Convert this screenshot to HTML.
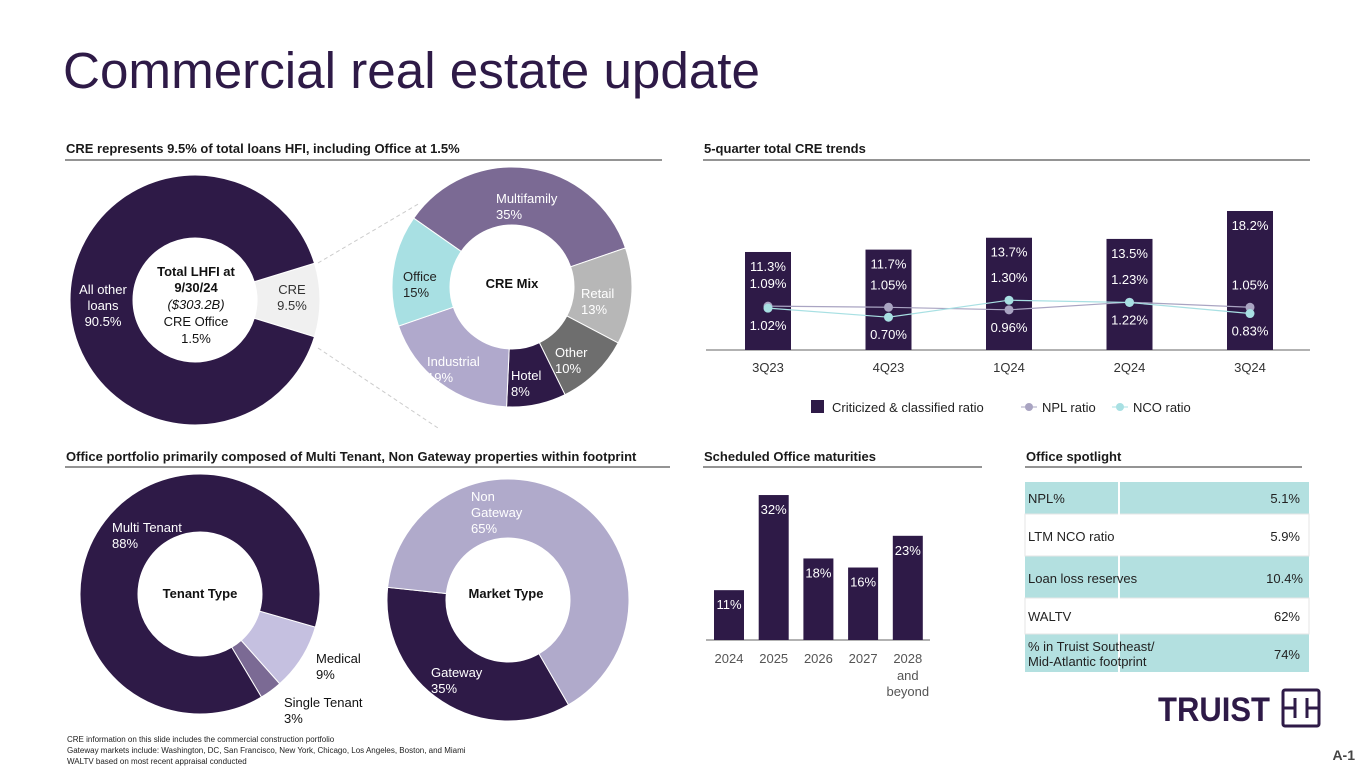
<!DOCTYPE html>
<html><head><meta charset="utf-8"><style>
body{margin:0;background:#fff;}
svg{display:block;font-family:"Liberation Sans",Arial,sans-serif;}
</style></head><body>
<svg id="s" width="1365" height="768" viewBox="0 0 1365 768">
<text x="63" y="88" font-size="51" fill="#2e1a47" textLength="697" lengthAdjust="spacingAndGlyphs">Commercial real estate update</text>
<text x="66" y="153" font-size="13" font-weight="bold" fill="#1a1a1a">CRE represents 9.5% of total loans HFI, including Office at 1.5%</text>
<line x1="65" y1="160" x2="662" y2="160" stroke="#555" stroke-width="1.2"/>
<text x="704" y="153" font-size="13" font-weight="bold" fill="#1a1a1a">5-quarter total CRE trends</text>
<line x1="703" y1="160" x2="1310" y2="160" stroke="#555" stroke-width="1.2"/>
<text x="66" y="461" font-size="13" font-weight="bold" fill="#1a1a1a">Office portfolio primarily composed of Multi Tenant, Non Gateway properties within footprint</text>
<line x1="65" y1="467" x2="670" y2="467" stroke="#555" stroke-width="1.2"/>
<text x="704" y="461" font-size="13" font-weight="bold" fill="#1a1a1a">Scheduled Office maturities</text>
<line x1="703" y1="467" x2="982" y2="467" stroke="#555" stroke-width="1.2"/>
<text x="1026" y="461" font-size="13" font-weight="bold" fill="#1a1a1a">Office spotlight</text>
<line x1="1025" y1="467" x2="1302" y2="467" stroke="#555" stroke-width="1.2"/>

<line x1="318" y1="263" x2="420" y2="203" stroke="#ccc" stroke-dasharray="4,3"/>
<line x1="318" y1="348" x2="438" y2="428" stroke="#ccc" stroke-dasharray="4,3"/>

<g id="donuts"></g>
<g id="trend"></g>
<g id="mat"></g>

<g font-size="13" text-anchor="middle" fill="#111">
<text x="196" y="276" font-weight="bold">Total LHFI at</text>
<text x="196" y="292" font-weight="bold">9/30/24</text>
<text x="196" y="309" font-style="italic">($303.2B)</text>
<text x="196" y="326">CRE Office</text>
<text x="196" y="343">1.5%</text>
<text x="512" y="288" font-weight="bold">CRE Mix</text>
<text x="200" y="598" font-weight="bold">Tenant Type</text>
<text x="506" y="598" font-weight="bold">Market Type</text>
</g>

<g font-size="13" fill="#222">
<rect x="1025" y="482" width="284" height="32" fill="#b3e0e0"/>
<rect x="1025" y="556" width="284" height="42" fill="#b3e0e0"/>
<rect x="1025" y="634" width="284" height="38" fill="#b3e0e0"/>
<rect x="1025" y="514" width="284" height="42" fill="none" stroke="#e6e6e6"/>
<rect x="1025" y="598" width="284" height="36" fill="none" stroke="#e6e6e6"/>
<line x1="1119" y1="482" x2="1119" y2="672" stroke="#fff" stroke-width="2"/>
<text x="1028" y="503">NPL%</text><text x="1300" y="503" text-anchor="end">5.1%</text>
<text x="1028" y="541">LTM NCO ratio</text><text x="1300" y="541" text-anchor="end">5.9%</text>
<text x="1028" y="583">Loan loss reserves</text><text x="1303" y="583" text-anchor="end">10.4%</text>
<text x="1028" y="621">WALTV</text><text x="1300" y="621" text-anchor="end">62%</text>
<text x="1028" y="651">% in Truist Southeast/</text><text x="1028" y="666">Mid-Atlantic footprint</text><text x="1300" y="659" text-anchor="end">74%</text>
</g>

<g>
<text x="1158" y="721" font-size="34" font-weight="bold" fill="#2e1a47" textLength="112" lengthAdjust="spacingAndGlyphs">TRUIST</text>
<rect x="1283" y="690" width="36" height="36" rx="2" fill="none" stroke="#2e1a47" stroke-width="3"/>
<line x1="1295" y1="698" x2="1295" y2="718" stroke="#2e1a47" stroke-width="3"/>
<line x1="1307" y1="698" x2="1307" y2="718" stroke="#2e1a47" stroke-width="3"/>
<line x1="1284" y1="708" x2="1295" y2="708" stroke="#2e1a47" stroke-width="3"/>
<line x1="1307" y1="708" x2="1318" y2="708" stroke="#2e1a47" stroke-width="3"/>
</g>
<text x="1355" y="760" font-size="14" font-weight="bold" fill="#444" text-anchor="end">A-1</text>
<g font-size="8" fill="#222">
<text x="67" y="742">CRE information on this slide includes the commercial construction portfolio</text>
<text x="67" y="753">Gateway markets include: Washington, DC, San Francisco, New York, Chicago, Los Angeles, Boston, and Miami</text>
<text x="67" y="764">WALTV based on most recent appraisal conducted</text>
</g>
</svg>
<script>
// ---- donut data ----
const loanLabels=["CRE","All other loans"];
const loanValues=[9.5,90.5];
const mixLabels=["Multifamily","Retail","Other","Hotel","Industrial","Office"];
const mixValues=[35,13,10,8,19,15];
const tenantLabels=["Medical","Single Tenant","Multi Tenant"];
const tenantValues=[9,3,88];
const marketLabels=["Gateway","Non Gateway"];
const marketValues=[35,65];
// ---- trend data ----
const quarters=["3Q23","4Q23","1Q24","2Q24","3Q24"];
const critValues=[11.3,11.7,13.7,13.5,18.2];
const nplValues=[1.09,1.05,0.96,1.23,1.05];
const ncoValues=[1.02,0.70,1.30,1.22,0.83];
// ---- maturities data ----
const matYears=["2024","2025","2026","2027","2028"];
const matValues=[11,32,18,16,23];

const NS="http://www.w3.org/2000/svg";
function mk(tag,attrs,parent){const e=document.createElementNS(NS,tag);for(const k in attrs)e.setAttribute(k,attrs[k]);parent.appendChild(e);return e;}
function pt(cx,cy,r,a){const t=a*Math.PI/180;return [cx+r*Math.cos(t),cy+r*Math.sin(t)];}
function arcPath(cx,cy,r0,r1,a0,a1){const L=(a1-a0)>180?1:0;const p1=pt(cx,cy,r1,a0),p2=pt(cx,cy,r1,a1),p3=pt(cx,cy,r0,a1),p4=pt(cx,cy,r0,a0);
return `M${p1[0]},${p1[1]}A${r1},${r1} 0 ${L} 1 ${p2[0]},${p2[1]}L${p3[0]},${p3[1]}A${r0},${r0} 0 ${L} 0 ${p4[0]},${p4[1]}Z`;}
const dg=document.getElementById('donuts');
function donut(cx,cy,r0,r1,start,values,labels,colors,name){
  const total=values.reduce((a,b)=>a+b,0);let a=start;
  values.forEach((v,i)=>{const s=v/total*360;
    const p=mk('path',{d:arcPath(cx,cy,r0,r1,a,a+s),fill:colors[i],stroke:'#fff','stroke-width':1},dg);
    
    
    a+=s;});
}
const dark="#2e1a47";
donut(195,300,62,125,-17.1,loanValues,loanLabels,["#f0f0f0",dark],"lhfi");
donut(512,287,62,120,-145,mixValues,mixLabels,["#7b6a94","#b7b7b7","#6e6e6e",dark,"#b0a9cc","#a8e0e3"],"cre-mix");
donut(200,594,62,120,16,tenantValues,tenantLabels,["#c5c0e0","#7b6a94",dark],"tenant");
donut(508,600,62,121,60,marketValues,marketLabels,[dark,"#b0aacb"],"market");
function lbl(x,y,lines,fill,anchor){lines.forEach((t,i)=>{const e=mk('text',{x:x,y:y+i*16,'font-size':13,fill:fill,'text-anchor':anchor||'start'},dg);e.textContent=t;
 });}
lbl(103,294,["All other","loans",loanValues[1]+"%"],"#fff","middle");
lbl(292,294,[loanLabels[0],loanValues[0]+"%"],"#333","middle");
lbl(496,203,["Multifamily",mixValues[0]+"%"],"#fff");
lbl(581,298,["Retail",mixValues[1]+"%"],"#fff");
lbl(555,357,["Other",mixValues[2]+"%"],"#fff");
lbl(511,380,["Hotel",mixValues[3]+"%"],"#fff");
lbl(427,366,["Industrial",mixValues[4]+"%"],"#fff");
lbl(403,281,["Office",mixValues[5]+"%"],"#222");
lbl(112,532,["Multi Tenant",tenantValues[2]+"%"],"#fff");
lbl(316,663,["Medical",tenantValues[0]+"%"],"#111");
lbl(284,707,["Single Tenant",tenantValues[1]+"%"],"#111");
lbl(471,501,["Non","Gateway",marketValues[1]+"%"],"#fff");
lbl(431,677,["Gateway",marketValues[0]+"%"],"#fff");

// ---- trend chart ----
const tg=document.getElementById('trend');
const tx=i=>768+i*120.5;
const tyBar=v=>350-(v+5.2)*5.94;
const tyRat=v=>337-v*28.3;
mk('line',{x1:706,y1:350,x2:1310,y2:350,stroke:'#999','stroke-width':1.5},tg);
quarters.forEach((q,i)=>{
  const b=mk('rect',{x:tx(i)-23,y:tyBar(critValues[i]),width:46,height:350-tyBar(critValues[i]),fill:dark},tg);
  
  const t=mk('text',{x:tx(i),y:tyBar(critValues[i])+19,'font-size':13,fill:'#fff','text-anchor':'middle'},tg);t.textContent=critValues[i].toFixed(1)+"%";
  
  const yn=tyRat(nplValues[i]),yc=tyRat(ncoValues[i]);
  const top=Math.min(yn,yc)-18,bot=Math.max(yn,yc)+22;
  const hiNpl=yn<=yc;
  const t1=mk('text',{x:tx(i),y:top,'font-size':13,fill:'#fff','text-anchor':'middle'},tg);t1.textContent=(hiNpl?nplValues[i]:ncoValues[i]).toFixed(2)+"%";
  
  const t2=mk('text',{x:tx(i),y:bot,'font-size':13,fill:'#fff','text-anchor':'middle'},tg);t2.textContent=(hiNpl?ncoValues[i]:nplValues[i]).toFixed(2)+"%";
  
  const xl=mk('text',{x:tx(i),y:372,'font-size':13,fill:'#333','text-anchor':'middle'},tg);xl.textContent=q;
  
});
function line(vals,color,name){
  const pl=mk('polyline',{points:vals.map((v,i)=>tx(i)+","+tyRat(v)).join(" "),fill:'none',stroke:color,'stroke-width':1.2},tg);
  
  vals.forEach((v,i)=>{const c=mk('circle',{cx:tx(i),cy:tyRat(v),r:4.5,fill:color},tg);
    });
}
line(nplValues,"#a9a4c2","npl");
line(ncoValues,"#a8e0e3","nco");
// legend
const lg=mk('g',{},tg);

mk('rect',{x:811,y:400,width:13,height:13,fill:dark},lg);
let e=mk('text',{x:832,y:412,'font-size':13,fill:'#222'},lg);e.textContent="Criticized & classified ratio";
mk('line',{x1:1021,y1:407,x2:1037,y2:407,stroke:'#a9a4c2'},lg);mk('circle',{cx:1029,cy:407,r:4,fill:'#a9a4c2'},lg);
e=mk('text',{x:1042,y:412,'font-size':13,fill:'#222'},lg);e.textContent="NPL ratio";
mk('line',{x1:1112,y1:407,x2:1128,y2:407,stroke:'#a8e0e3'},lg);mk('circle',{cx:1120,cy:407,r:4,fill:'#a8e0e3'},lg);
e=mk('text',{x:1133,y:412,'font-size':13,fill:'#222'},lg);e.textContent="NCO ratio";

// ---- maturities ----
const mg=document.getElementById('mat');
const mx=i=>729+i*44.7;
const my=v=>640-v*4.53;
mk('line',{x1:706,y1:640,x2:930,y2:640,stroke:'#999','stroke-width':1.5},mg);
matYears.forEach((y,i)=>{
  const b=mk('rect',{x:mx(i)-15,y:my(matValues[i]),width:30,height:640-my(matValues[i]),fill:dark},mg);
  
  const t=mk('text',{x:mx(i),y:my(matValues[i])+19,'font-size':13,fill:'#fff','text-anchor':'middle'},mg);t.textContent=matValues[i]+"%";
  
  const l=mk('text',{x:mx(i),y:663,'font-size':13,fill:'#555','text-anchor':'middle'},mg);l.textContent=y;
  
});
e=mk('text',{x:mx(4),y:680,'font-size':13,fill:'#555','text-anchor':'middle'},mg);e.textContent="and";
e=mk('text',{x:mx(4),y:696,'font-size':13,fill:'#555','text-anchor':'middle'},mg);e.textContent="beyond";
</script>
</body></html>
